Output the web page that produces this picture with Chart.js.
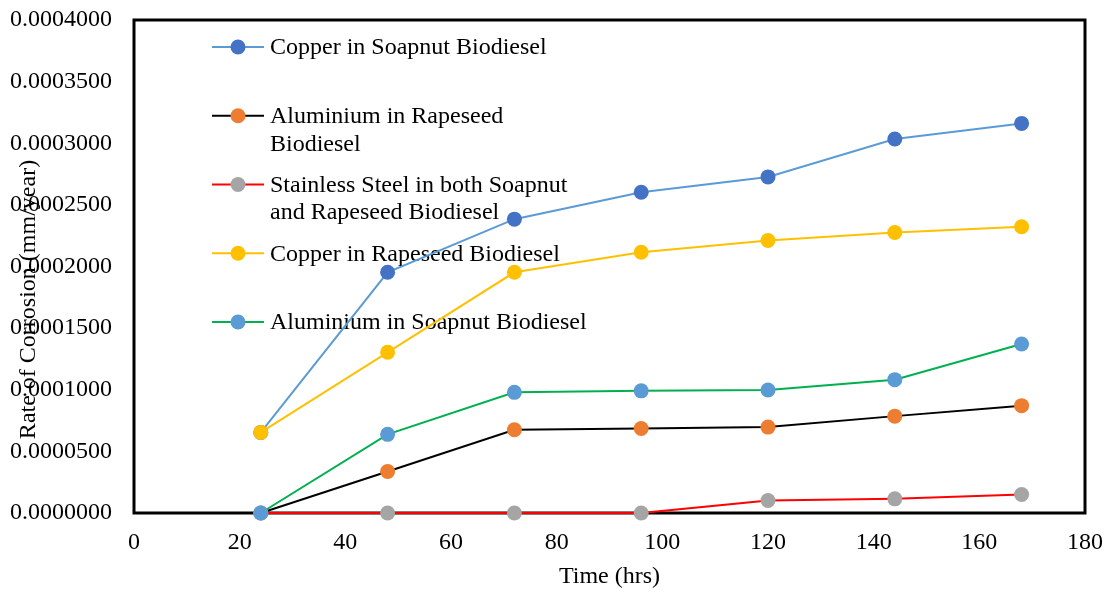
<!DOCTYPE html>
<html>
<head>
<meta charset="utf-8">
<title>Rate of Corrosion</title>
<script src="https://cdn.jsdelivr.net/npm/chart.js@4/dist/chart.umd.min.js"></script>
<style>
  html, body { margin: 0; padding: 0; background: #ffffff; }
  #wrap { width: 1106px; height: 589px; position: relative; }
</style>
</head>
<body>
<div id="wrap"><canvas id="chart" width="1106" height="589"></canvas></div>
<script>
// Exposure time (hrs)
const hours = [24, 48, 72, 96, 120, 144, 168];

// Corrosion rate (mm/year) per metal / fuel pair
const copperSoapnut    = [0.0000654, 0.0001953, 0.0002384, 0.0002603, 0.0002727, 0.0003034, 0.0003161];
const aluminiumRapeseed = [0.0000000, 0.0000337, 0.0000676, 0.0000686, 0.0000697, 0.0000786, 0.0000871];
const stainlessSteel   = [0.0000000, 0.0000000, 0.0000000, 0.0000000, 0.0000102, 0.0000115, 0.0000150];
const copperRapeseed   = [0.0000654, 0.0001304, 0.0001953, 0.0002116, 0.0002211, 0.0002276, 0.0002322];
const aluminiumSoapnut = [0.0000000, 0.0000638, 0.0000979, 0.0000991, 0.0000998, 0.0001082, 0.0001371];

const seriesNames = [
  ['Copper in Soapnut Biodiesel'],
  ['Aluminium in Rapeseed', 'Biodiesel'],
  ['Stainless Steel in both Soapnut', 'and Rapeseed Biodiesel'],
  ['Copper in Rapeseed Biodiesel'],
  ['Aluminium in Soapnut Biodiesel']
];

// Axis ranges and tick spacing
const xRange = [0, 180];
const xStep = 20;
const yRange = [0, 0.0004];
const yStep = 0.00005;

const FONT_FAMILY = '"Liberation Serif", "Times New Roman", "DejaVu Serif", serif';
const FONT_SIZE = 24;

const toPoints = vals => vals.map((v, i) => ({ x: hours[i], y: v }));

function series(name, vals, lineColor, dotColor, order) {
  return {
    label: name.join(' '),
    legendLines: name,
    data: toPoints(vals),
    borderColor: lineColor,
    backgroundColor: dotColor,
    pointBackgroundColor: dotColor,
    pointBorderColor: dotColor,
    pointBorderWidth: 0,
    pointRadius: 7.5,
    pointHoverRadius: 7.5,
    borderWidth: 2,
    tension: 0,
    clip: false,
    order: order
  };
}

// Plot frame plus the in-plot legend (drawn beneath the series)
const frameAndLegend = {
  id: 'frameAndLegend',
  beforeDatasetsDraw(chart) {
    const { ctx, chartArea: a } = chart;
    ctx.save();
    ctx.lineWidth = 3;
    ctx.strokeStyle = '#000000';
    ctx.strokeRect(a.left, a.top, a.right - a.left, a.bottom - a.top);

    ctx.font = FONT_SIZE + 'px ' + FONT_FAMILY;
    ctx.textBaseline = 'middle';
    ctx.textAlign = 'left';
    chart.data.datasets.forEach((ds, i) => {
      const y = a.top + 27 + i * 68.75;
      const x0 = a.left + 78;
      ctx.strokeStyle = ds.borderColor;
      ctx.lineWidth = 2;
      ctx.beginPath();
      ctx.moveTo(x0, y);
      ctx.lineTo(x0 + 52, y);
      ctx.stroke();
      ctx.fillStyle = ds.pointBackgroundColor;
      ctx.beginPath();
      ctx.arc(x0 + 26, y, 7.5, 0, Math.PI * 2);
      ctx.fill();
      ctx.fillStyle = '#000000';
      ds.legendLines.forEach((t, k) => ctx.fillText(t, a.left + 136, y + 1 + k * 27.5));
    });
    ctx.restore();
  },
  afterDraw(chart) {
    // Vertical axis title, sitting over the tick labels
    const { ctx, chartArea: a } = chart;
    ctx.save();
    ctx.font = FONT_SIZE + 'px ' + FONT_FAMILY;
    ctx.fillStyle = '#000000';
    ctx.textAlign = 'center';
    ctx.textBaseline = 'middle';
    ctx.translate(a.left - 105, (a.top + a.bottom) / 2 + 33);
    ctx.rotate(-Math.PI / 2);
    ctx.fillText('Rate of Corrosion (mm/year)', 0, 0);
    ctx.restore();
  }
};

new Chart(document.getElementById('chart'), {
  type: 'line',
  data: {
    datasets: [
      series(seriesNames[0], copperSoapnut, '#5B9BD5', '#4472C4', 5),
      series(seriesNames[1], aluminiumRapeseed, '#000000', '#ED7D31', 4),
      series(seriesNames[2], stainlessSteel, '#FF0000', '#A5A5A5', 3),
      series(seriesNames[3], copperRapeseed, '#FFC000', '#FFC000', 2),
      series(seriesNames[4], aluminiumSoapnut, '#00B050', '#5B9BD5', 1)
    ]
  },
  options: {
    responsive: false,
    animation: false,
    devicePixelRatio: 1,
    layout: { autoPadding: false, padding: { top: 20, right: 21, left: 0, bottom: 0 } },
    plugins: {
      legend: { display: false },
      tooltip: { enabled: false }
    },
    scales: {
      x: {
        type: 'linear',
        min: xRange[0],
        max: xRange[1],
        grid: { display: false, drawTicks: false },
        border: { display: false },
        ticks: {
          stepSize: xStep,
          padding: 15,
          color: '#000000',
          font: { family: FONT_FAMILY, size: FONT_SIZE },
          callback: v => String(v)
        },
        title: {
          display: true,
          text: 'Time (hrs)',
          color: '#000000',
          font: { family: FONT_FAMILY, size: FONT_SIZE, lineHeight: 1 },
          padding: { top: 0, bottom: 0 }
        },
        afterFit: s => { s.height = 76; s.paddingLeft = 0; s.paddingRight = 0; }
      },
      y: {
        type: 'linear',
        min: yRange[0],
        max: yRange[1],
        grid: { display: false, drawTicks: false },
        border: { display: false },
        ticks: {
          stepSize: yStep,
          padding: 22,
          color: '#000000',
          font: { family: FONT_FAMILY, size: FONT_SIZE },
          callback: v => Number(v).toFixed(7)
        },
        afterFit: s => { s.width = 134; s.paddingTop = 0; s.paddingBottom = 0; }
      }
    }
  },
  plugins: [frameAndLegend]
});
</script>
</body>
</html>
